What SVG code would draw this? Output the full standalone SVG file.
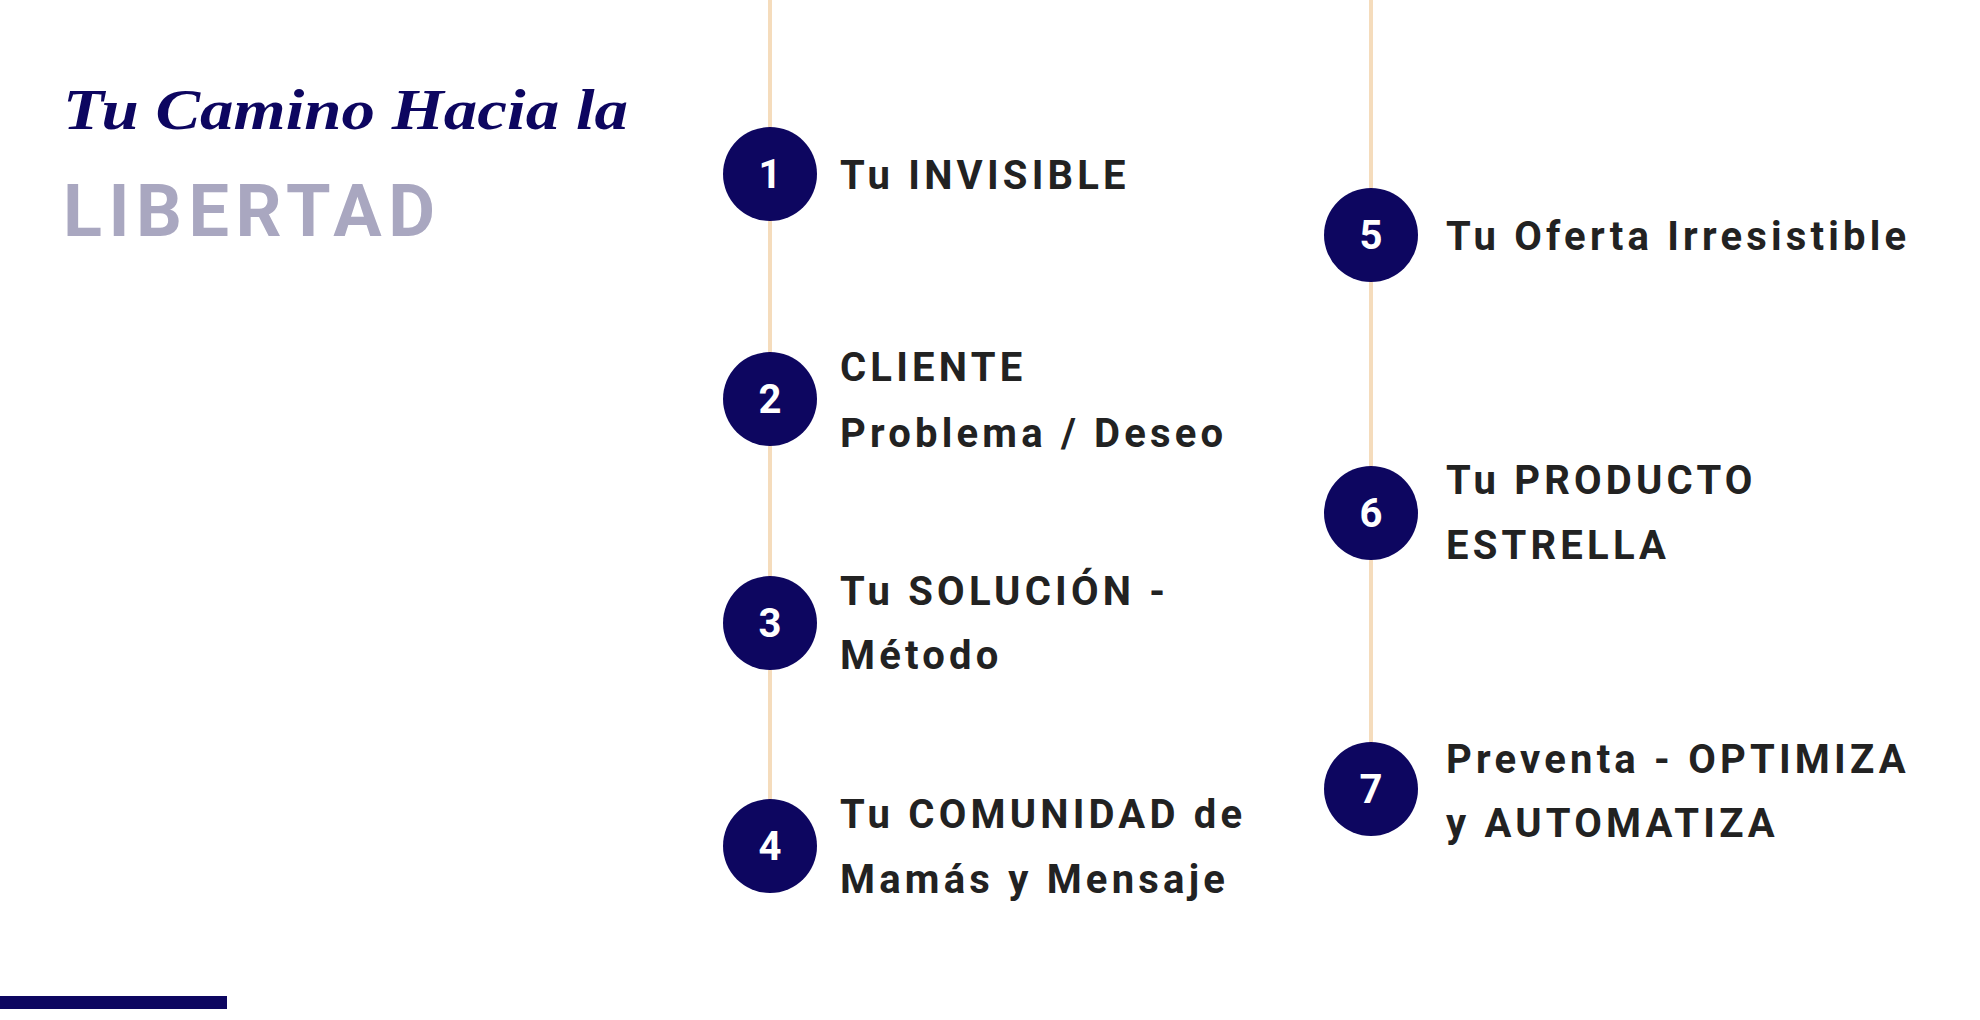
<svg xmlns="http://www.w3.org/2000/svg" width="1980" height="1020" viewBox="0 0 1980 1020">
<style>
.ln{stroke:#f5dcbc;stroke-width:4}
.c{fill:#0d0660}
.n{font-family:Roboto,"Liberation Sans",sans-serif;font-weight:bold;font-size:40px;fill:#fff;text-anchor:middle}
.t{font-family:Roboto,"Liberation Sans",sans-serif;font-weight:bold;font-size:40px;fill:#222;letter-spacing:4.2px}
</style>
<rect width="1980" height="1020" fill="#fff"/>
<g id="title">
<text x="63" y="129" font-family="'Liberation Serif',serif" font-style="italic" font-weight="bold" font-size="58" fill="#0d0660" textLength="565" lengthAdjust="spacingAndGlyphs">Tu Camino Hacia la</text>
<text x="63" y="236" font-family="Roboto,'Liberation Sans',sans-serif" font-weight="bold" font-size="72" fill="#a9a7c0" letter-spacing="6.5">LIBERTAD</text>
<rect x="0" y="996" width="227" height="13" fill="#0d0660"/>
</g>
<g id="connectors">
<line class="ln" x1="770" y1="0" x2="770" y2="800"/>
<line class="ln" x1="1371" y1="0" x2="1371" y2="745"/>
</g>
<g id="n1"><circle class="c" cx="770" cy="174" r="47"/><text class="n" x="770" y="188">1</text><text class="t" x="840" y="189">Tu INVISIBLE</text></g>
<g id="n2"><circle class="c" cx="770" cy="399" r="47"/><text class="n" x="770" y="413">2</text><text class="t" x="840" y="381">CLIENTE</text><text class="t" x="840" y="447">Problema / Deseo</text></g>
<g id="n3"><circle class="c" cx="770" cy="623" r="47"/><text class="n" x="770" y="637">3</text><text class="t" x="840" y="605">Tu SOLUCIÓN -</text><text class="t" x="840" y="669">Método</text></g>
<g id="n4"><circle class="c" cx="770" cy="846" r="47"/><text class="n" x="770" y="860">4</text><text class="t" x="840" y="828">Tu COMUNIDAD de</text><text class="t" x="840" y="893">Mamás y Mensaje</text></g>
<g id="n5"><circle class="c" cx="1371" cy="235" r="47"/><text class="n" x="1371" y="249">5</text><text class="t" x="1446" y="250">Tu Oferta Irresistible</text></g>
<g id="n6"><circle class="c" cx="1371" cy="513" r="47"/><text class="n" x="1371" y="527">6</text><text class="t" x="1446" y="494">Tu PRODUCTO</text><text class="t" x="1446" y="559">ESTRELLA</text></g>
<g id="n7"><circle class="c" cx="1371" cy="789" r="47"/><text class="n" x="1371" y="803">7</text><text class="t" x="1446" y="773">Preventa - OPTIMIZA</text><text class="t" x="1446" y="837">y AUTOMATIZA</text></g>
</svg>
